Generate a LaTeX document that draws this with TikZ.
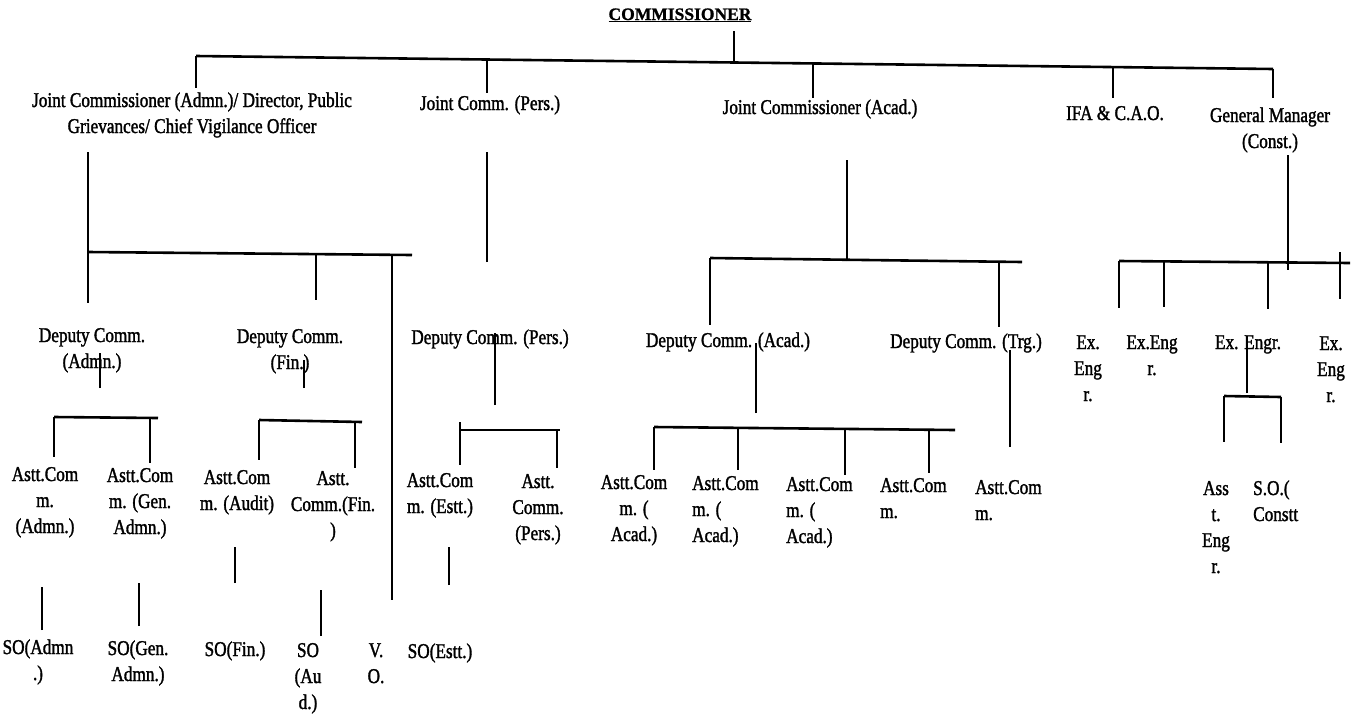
\documentclass[tikz,border=0pt]{standalone}
\usepackage{fontspec}
\setmainfont{Liberation Serif}[FakeStretch=0.82, FakeBold=1.5]
\newfontfamily\headfont{Liberation Serif}[FakeBold=1]
\usetikzlibrary{positioning,calc}
% lines stacked from the first baseline down
\newcommand{\stk}[1]{\begin{tabular}[t]{@{}c@{}}#1\end{tabular}}
\newcommand{\stkl}[1]{\begin{tabular}[t]{@{}l@{}}#1\end{tabular}}

\begin{document}
\begin{tikzpicture}[
    x=1pt, y=-1pt,
    font=\fontsize{21}{26}\selectfont,
    post/.style={anchor=base, inner sep=0pt},
    postl/.style={anchor=base west, inner sep=0pt},
    bar/.style={line width=2.6pt},
    link/.style={line width=1.8pt}
]
    \useasboundingbox[fill=white] (0,0) rectangle (1359,718);

    % top level
    \node [post, font=\headfont\fontsize{17.5}{20}\selectfont\bfseries] (com) at (680,20) {\underline{COMMISSIONER}};
    \node [post] (jca) at (192,107) {\stk{Joint Commissioner (Admn.)/ Director, Public\\Grievances/ Chief Vigilance Officer}};
    \node [post] (jcp) at (490,110) {Joint Comm. (Pers.)};
    \node [post] (jcac) at (820,114) {Joint Commissioner (Acad.)};
    \node [post] (ifa) at (1115,120) {IFA \& C.A.O.};
    \node [post] (gm) at (1270,122) {\stk{General Manager\\(Const.)}};

    % deputy level
    \node [post] (dpa) at (92,342) {\stk{Deputy Comm.\\(Admn.)}};
    \node [post] (dpf) at (290,343) {\stk{Deputy Comm.\\(Fin.)}};
    \node [post] (dpp) at (490,344) {Deputy Comm. (Pers.)};
    \node [post] (dpac) at (728,347) {Deputy Comm. (Acad.)};
    \node [post] (dpt) at (966,348) {Deputy Comm. (Trg.)};
    \node [post] (ex1) at (1088,349) {\stk{Ex.\\Eng\\r.}};
    \node [post] (ex2) at (1152,349) {\stk{Ex.Eng\\r.}};
    \node [post] (ex3) at (1248,349) {Ex. Engr.};
    \node [post] (ex4) at (1331,350) {\stk{Ex.\\Eng\\r.}};

    % astt. comm. level
    \node [post] (aca) at (45,481) {\stk{Astt.Com\\m.\\(Admn.)}};
    \node [post] (acg) at (140,482) {\stk{Astt.Com\\m. (Gen.\\Admn.)}};
    \node [post] (acu) at (237,484) {\stk{Astt.Com\\m. (Audit)}};
    \node [post] (acf) at (333,485) {\stk{Astt.\\Comm.(Fin.\\)}};
    \node [post] (ace) at (440,487) {\stk{Astt.Com\\m. (Estt.)}};
    \node [post] (acp) at (538,488) {\stk{Astt.\\Comm.\\(Pers.)}};
    \node [post] (acd1) at (634,489) {\stk{Astt.Com\\m. (\\Acad.)}};
    \node [postl] (acd2) at (692,490) {\stkl{Astt.Com\\m. (\\Acad.)}};
    \node [postl] (acd3) at (786,491) {\stkl{Astt.Com\\m. (\\Acad.)}};
    \node [postl] (acx) at (880,492) {\stkl{Astt.Com\\m.}};
    \node [postl] (act) at (975,494) {\stkl{Astt.Com\\m.}};
    \node [post] (ae) at (1216,495) {\stk{Ass\\t.\\Eng\\r.}};
    \node [postl] (soc) at (1253,495) {\stkl{S.O.(\\Constt}};

    % section officers
    \node [post] (soa) at (38,654) {\stk{SO(Admn\\.)}};
    \node [post] (sog) at (138,655) {\stk{SO(Gen.\\Admn.)}};
    \node [post] (sof) at (235,656) {SO(Fin.)};
    \node [post] (sou) at (308,657) {\stk{SO\\(Au\\d.)}};
    \node [post] (vo) at (376,657) {\stk{V.\\O.}};
    \node [post] (soe) at (440,658) {SO(Estt.)};

    % top bar
    \coordinate (t1) at (196,56);
    \coordinate (t2) at (487,60);
    \coordinate (tc) at (734,62);
    \coordinate (t3) at (813,63);
    \coordinate (t4) at (1113,67);
    \coordinate (t5) at (1273,69);
    \draw [bar] (t1) -- (t5);
    \draw [link] (tc) -- ++(0,-31);
    \foreach \p/\l in {t1/32, t2/33, t3/35, t4/31, t5/29}
        \draw [link] (\p) -- ++(0,\l);

    % admn. group
    \coordinate (a1) at (88,252);
    \coordinate (a2) at (316,254);
    \coordinate (a3) at (392,255);
    \coordinate (aE) at (412,255);
    \draw [bar] (a1) -- (aE);
    \draw [link] (a1) -- ++(0,-100);
    \foreach \p/\l in {a1/51, a2/46, a3/345}
        \draw [link] (\p) -- ++(0,\l);

    % pers.
    \coordinate (p0) at (487,262);
    \draw [link] (p0) -- ++(0,-110);

    % acad. group
    \coordinate (c0) at (847,261);
    \coordinate (c1) at (710,258);
    \coordinate (c2) at (999,261);
    \coordinate (cE) at (1022,262);
    \draw [bar] (c1) -- (cE);
    \draw [link] (c0) -- ++(0,-101);
    \foreach \p/\l in {c1/67, c2/66}
        \draw [link] (\p) -- ++(0,\l);

    % const. group
    \coordinate (g0) at (1288,262);
    \coordinate (g1) at (1119,261);
    \coordinate (g2) at (1164,261);
    \coordinate (g3) at (1268,262);
    \coordinate (g4) at (1340,263);
    \coordinate (gE) at (1350,263);
    \draw [bar] (g1) -- (gE);
    \draw [link] (g0) ++(0,-107) -- ++(0,115);
    \foreach \p/\l in {g1/47, g2/46, g3/47}
        \draw [link] (\p) -- ++(0,\l);
    \draw [link] (g4) ++(0,-11) -- ++(0,47);

    % deputy comm. (admn.)
    \coordinate (da) at (100,388);
    \coordinate (da1) at (54,417);
    \coordinate (da2) at (150,418);
    \coordinate (daE) at (158,418);
    \draw [link] (da) -- ++(0,-35);
    \draw [bar] (da1) -- (daE);
    \foreach \p/\l in {da1/40, da2/45}
        \draw [link] (\p) -- ++(0,\l);

    % deputy comm. (fin.)
    \coordinate (df) at (304,388);
    \coordinate (df1) at (259,420);
    \coordinate (df2) at (355,421);
    \coordinate (dfE) at (362,422);
    \draw [link] (df) -- ++(0,-28);
    \draw [bar] (df1) -- (dfE);
    \foreach \p/\l in {df1/40, df2/47}
        \draw [link] (\p) -- ++(0,\l);

    % deputy comm. (pers.)
    \coordinate (dp) at (495,405);
    \coordinate (dp1) at (460,430);
    \coordinate (dp2) at (557,430);
    \coordinate (dpE) at (560,430);
    \draw [link] (dp) -- ++(0,-72);
    \draw [bar] (dp1) -- (dpE);
    \draw [link] (dp1) ++(0,-8) -- ++(0,43);
    \draw [link] (dp2) -- ++(0,38);

    % deputy comm. (acad.)
    \coordinate (dc) at (756,413);
    \coordinate (dc1) at (654,427);
    \coordinate (dc2) at (738,428);
    \coordinate (dc3) at (845,429);
    \coordinate (dc4) at (929,429);
    \coordinate (dcE) at (955,430);
    \draw [link] (dc) -- ++(0,-70);
    \draw [bar] (dc1) -- (dcE);
    \foreach \p/\l in {dc1/43, dc2/42, dc3/46, dc4/44}
        \draw [link] (\p) -- ++(0,\l);

    % deputy comm. (trg.)
    \coordinate (dt) at (1010,447);
    \draw [link] (dt) -- ++(0,-97);

    % ex. engr.
    \coordinate (de) at (1247,393);
    \coordinate (de1) at (1224,396);
    \coordinate (de2) at (1281,397);
    \draw [link] (de) -- ++(0,-46);
    \draw [bar] (de1) -- (de2);
    \foreach \p/\l in {de1/46, de2/46}
        \draw [link] (\p) -- ++(0,\l);

    % astt. comm. to section officers
    \coordinate (s1) at (42,630);
    \coordinate (s2) at (139,626);
    \coordinate (s3) at (235,583);
    \coordinate (s4) at (321,636);
    \coordinate (s5) at (449,585);
    \foreach \p/\l in {s1/-43, s2/-43, s3/-36, s4/-46, s5/-38}
        \draw [link] (\p) -- ++(0,\l);
\end{tikzpicture}
\end{document}
